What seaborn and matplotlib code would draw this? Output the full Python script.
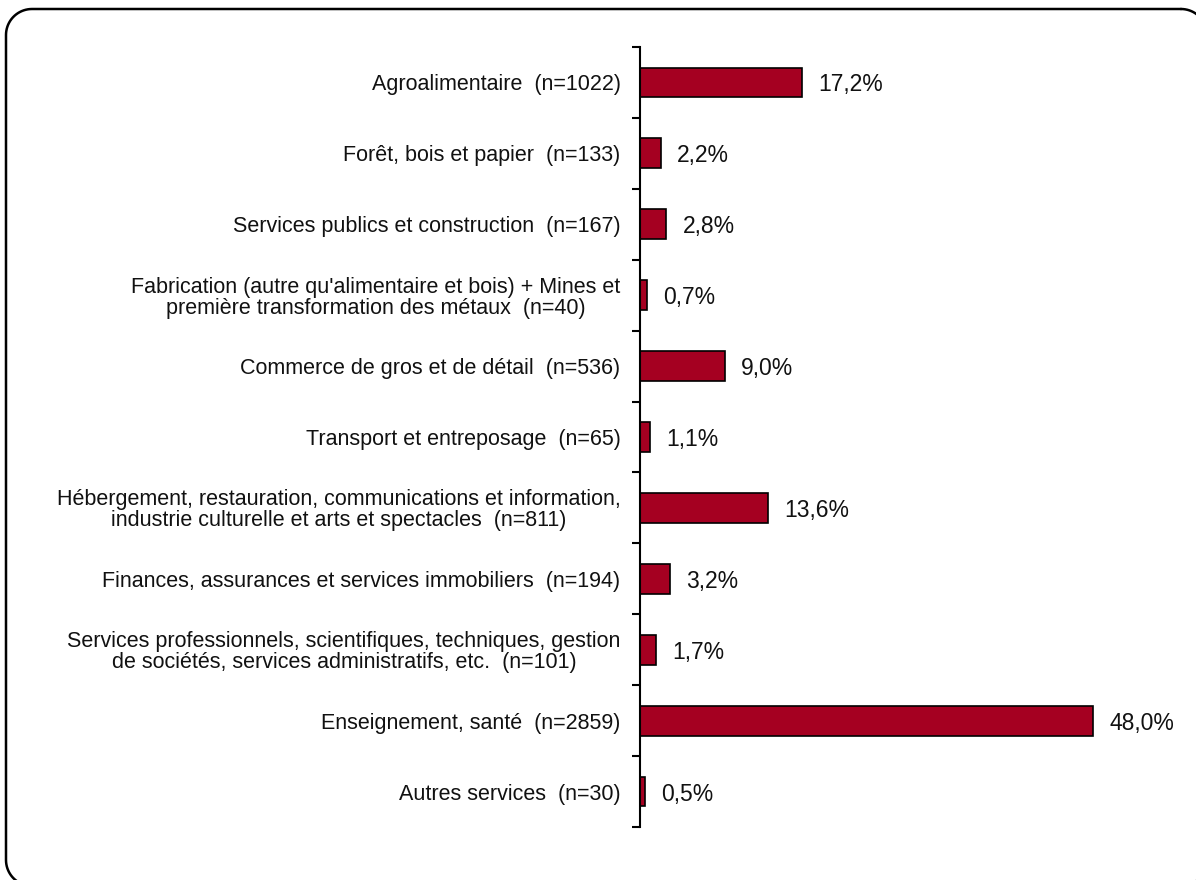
import matplotlib
matplotlib.use("Agg")
import matplotlib.pyplot as plt
import seaborn as sns
import pandas as pd
import numpy as np
from matplotlib.lines import Line2D
from matplotlib.transforms import IdentityTransform

categories = [
    "Agroalimentaire  (n=1022)",
    "Forêt, bois et papier  (n=133)",
    "Services publics et construction  (n=167)",
    "Fabrication (autre qu'alimentaire et bois) + Mines et\npremière transformation des métaux  (n=40)",
    "Commerce de gros et de détail  (n=536)",
    "Transport et entreposage  (n=65)",
    "Hébergement, restauration, communications et information,\nindustrie culturelle et arts et spectacles  (n=811)",
    "Finances, assurances et services immobiliers  (n=194)",
    "Services professionnels, scientifiques, techniques, gestion\nde sociétés, services administratifs, etc.  (n=101)",
    "Enseignement, santé  (n=2859)",
    "Autres services  (n=30)",
]
values = [17.2, 2.2, 2.8, 0.7, 9.0, 1.1, 13.6, 3.2, 1.7, 48.0, 0.5]
value_labels = ["17,2%", "2,2%", "2,8%", "0,7%", "9,0%", "1,1%", "13,6%", "3,2%", "1,7%", "48,0%", "0,5%"]

sns.set_theme(style="white")
plt.rcParams["font.family"] = ["Liberation Sans", "DejaVu Sans"]

W, H = 1196, 880
fig = plt.figure(figsize=(W / 100, H / 100), dpi=100)

# rounded border as a sampled polyline in pixel coordinates (origin bottom-left)
x0, x1 = 6.0, 1207.0
y0, y1 = -6.0, H - 9.0
r = 26.0
def corner(cx, cy, a0, a1):
    t = np.linspace(np.radians(a0), np.radians(a1), 20)
    return cx + r * np.cos(t), cy + r * np.sin(t)
xs, ys = [], []
for cx, cy, a0, a1 in [(x1 - r, y1 - r, 90, 0), (x1 - r, y0 + r, 0, -90),
                       (x0 + r, y0 + r, 270, 180), (x0 + r, y1 - r, 180, 90)]:
    cxs, cys = corner(cx, cy, a0, a1)
    xs.extend(cxs); ys.extend(cys)
xs.append(xs[0]); ys.append(ys[0])
border = Line2D(xs, ys, transform=IdentityTransform(), color="black",
                linewidth=1.8, solid_joinstyle="round")
fig.add_artist(border)

ax = fig.add_axes([640 / W, 1 - 827 / H, (1180 - 640) / W, (827 - 47) / H])
df = pd.DataFrame({"cat": categories, "val": values})
sns.barplot(data=df, x="val", y="cat", ax=ax, color="#A50021", saturation=1,
            width=0.42, edgecolor="black", linewidth=1.2, orient="h")

ax.set_xlim(0, 57.2)
ax.set_ylim(len(categories) - 0.5, -0.5)
ax.set_xlabel("")
ax.set_ylabel("")
ax.set_xticks([])
for s in ["top", "right", "bottom"]:
    ax.spines[s].set_visible(False)
ax.spines["left"].set_linewidth(1.5)
ax.spines["left"].set_color("black")

ax.set_yticks(range(len(categories)))
ax.set_yticklabels(categories, fontsize=15.5, multialignment="center",
                   color="#111111", linespacing=1.0)
ax.tick_params(axis="y", which="major", length=0, pad=14)
ax.set_yticks(np.arange(-0.5, len(categories), 1), minor=True)
ax.tick_params(axis="y", which="minor", length=6, width=1.5, color="black", left=True)

for i, (v, lab) in enumerate(zip(values, value_labels)):
    ax.text(v + 1.7, i, lab, va="center_baseline", ha="left", fontsize=16.5, color="#111111")

fig.savefig("out.png", dpi=100)
